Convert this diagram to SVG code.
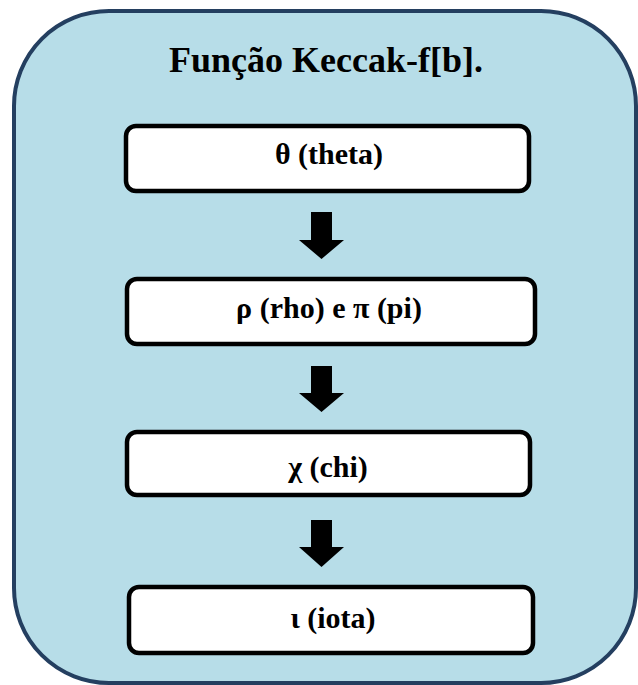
<svg xmlns="http://www.w3.org/2000/svg" width="638" height="685" viewBox="0 0 638 685">
<style>
.outer{fill:#B7DDE8;stroke:#243F60;stroke-width:4}
.box{fill:#FFFFFF;stroke:#000000;stroke-width:4.5}
.t{font-weight:bold;fill:#000;text-anchor:middle}
.title{font-size:36px}
.lbl{font-size:30px}
.arr{fill:#000;stroke:none}
</style>
<g id="container">
<rect class="outer" x="14" y="11" width="622" height="672" rx="95" ry="95"/>
<text class="t title" font-family="Liberation Serif, serif" x="326" y="72">Função Keccak-f[b].</text>
</g>
<g id="theta">
<rect class="box" x="126" y="126" width="403" height="65" rx="10" ry="10"/>
<text class="t lbl" font-family="Liberation Serif, serif" x="329" y="164">θ (theta)</text>
</g>
<g id="rho-pi">
<rect class="box" x="127" y="279" width="408" height="65" rx="10" ry="10"/>
<text class="t lbl" font-family="Liberation Serif, serif" x="329" y="318">ρ (rho) e π (pi)</text>
</g>
<g id="chi">
<rect class="box" x="127" y="432" width="403" height="63" rx="10" ry="10"/>
<text class="t lbl" font-family="Liberation Serif, serif" x="328" y="477">χ (chi)</text>
</g>
<g id="iota">
<rect class="box" x="129" y="587" width="404" height="66" rx="10" ry="10"/>
<text class="t lbl" font-family="Liberation Serif, serif" x="333" y="628">ι (iota)</text>
</g>
<g id="connectors">
<polygon class="arr" points="311,212 332,212 332,240 344,240 321.5,259 299,240 311,240"/>
<polygon class="arr" points="311,366 332,366 332,393 344,393 321.5,412 299,393 311,393"/>
<polygon class="arr" points="311,520 332,520 332,547 344,547 321.5,567 299,547 311,547"/>
</g>
</svg>
